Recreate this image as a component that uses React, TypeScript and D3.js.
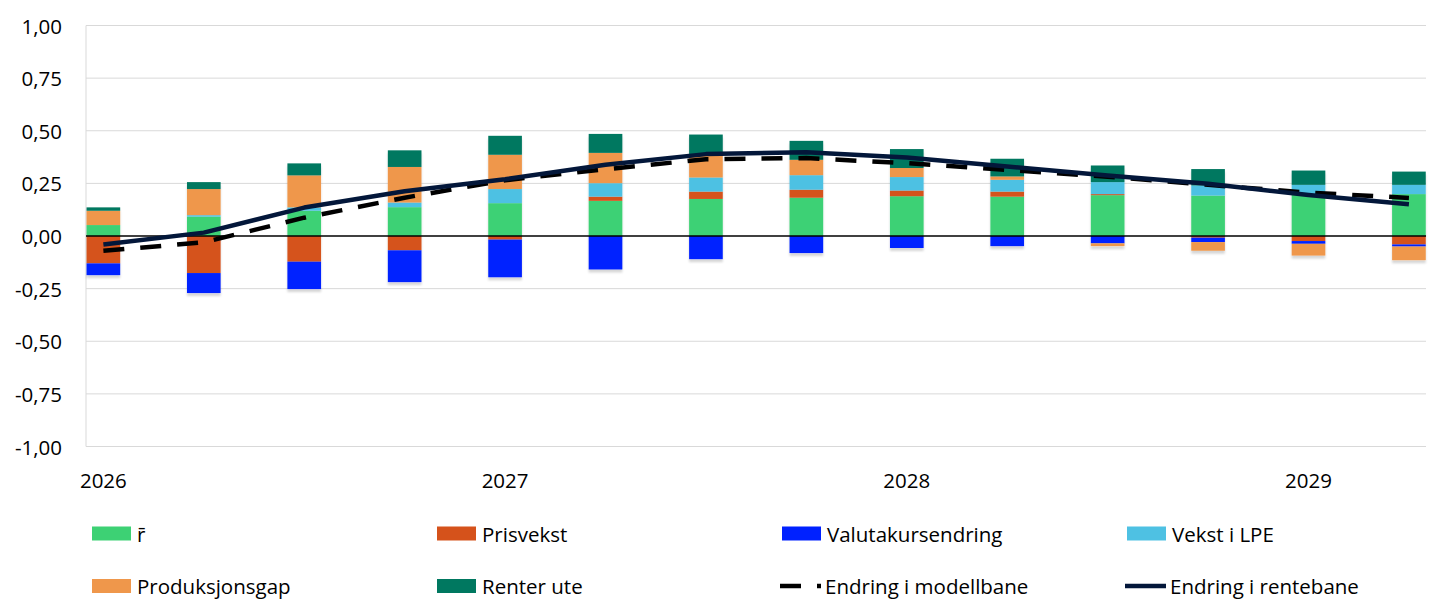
import * as d3 from 'd3';

// Quarterly decomposition of the change in the policy rate path
const QUARTERS = [
  '2026K1', '2026K2', '2026K3', '2026K4',
  '2027K1', '2027K2', '2027K3', '2027K4',
  '2028K1', '2028K2', '2028K3', '2028K4',
  '2029K1', '2029K2',
];

const R_BAR = [0.052, 0.092, 0.12, 0.137, 0.156, 0.167, 0.176, 0.182, 0.189, 0.187, 0.194, 0.192, 0.195, 0.199];
const PRISVEKST = [-0.13, -0.176, -0.122, -0.068, -0.017, 0.02, 0.035, 0.038, 0.027, 0.024, 0.005, -0.008, -0.024, -0.04];
const VALUTA = [-0.056, -0.095, -0.13, -0.151, -0.179, -0.159, -0.11, -0.081, -0.057, -0.048, -0.035, -0.021, -0.013, -0.01];
const VEKST_LPE = [0, 0.007, 0.016, 0.022, 0.067, 0.064, 0.067, 0.069, 0.064, 0.056, 0.057, 0.048, 0.048, 0.044];
const PRODGAP = [0.068, 0.124, 0.152, 0.169, 0.163, 0.144, 0.11, 0.073, 0.043, 0.016, -0.013, -0.041, -0.056, -0.065];
const RENTER_UTE = [0.016, 0.033, 0.057, 0.079, 0.09, 0.09, 0.094, 0.09, 0.09, 0.084, 0.079, 0.078, 0.068, 0.063];

const MODELLBANE = [-0.07, -0.03, 0.087, 0.182, 0.265, 0.317, 0.365, 0.37, 0.346, 0.314, 0.282, 0.243, 0.206, 0.181];
const RENTEBANE = [-0.04, 0.016, 0.135, 0.213, 0.27, 0.338, 0.389, 0.398, 0.373, 0.33, 0.287, 0.248, 0.195, 0.151];

const Y_TICKS = [-1, -0.75, -0.5, -0.25, 0, 0.25, 0.5, 0.75, 1];
const X_TICKS = [0, 4, 8, 12];
const X_TICK_LABELS = ['2026', '2027', '2028', '2029'];

const SERIES = [
  { key: 'rbar', label: 'r\u0304', color: '#3dd174', values: R_BAR },
  { key: 'pris', label: 'Prisvekst', color: '#d5521b', values: PRISVEKST },
  { key: 'valuta', label: 'Valutakursendring', color: '#0021ff', values: VALUTA },
  { key: 'lpe', label: 'Vekst i LPE', color: '#4ec1e3', values: VEKST_LPE },
  { key: 'prod', label: 'Produksjonsgap', color: '#ef974b', values: PRODGAP },
  { key: 'ute', label: 'Renter ute', color: '#007860', values: RENTER_UTE },
];

const LINES = [
  { key: 'modell', label: 'Endring i modellbane', color: '#000000', dash: '21,16', values: MODELLBANE },
  { key: 'rente', label: 'Endring i rentebane', color: '#03173a', dash: null, values: RENTEBANE },
];

const LEGEND_ORDER = ['rbar', 'pris', 'valuta', 'lpe', 'prod', 'ute', 'modell', 'rente'];

const W = 1445;
const H = 605;
const FONT = '"Open Sans", Lato, sans-serif';
const FS = 20.5;

export default function App() {
  const x = d3.scaleLinear().domain([-0.173, 13.17]).range([86, 1426]);
  const y = d3.scaleLinear().domain([-1, 1]).range([446.5, 25.5]);

  const rows = QUARTERS.map((q, i) => {
    const row: Record<string, number | string> = { q, i };
    SERIES.forEach(s => { row[s.key] = s.values[i]; });
    return row;
  });

  const stacked = d3.stack<any>()
    .keys(SERIES.map(s => s.key))
    .offset(d3.stackOffsetDiverging)(rows);

  const barW = (x(1) - x(0)) * 0.335;
  const fmt = (v: number) => d3.format('.2f')(v).replace('.', ',').replace('−', '-');

  const line = d3.line<number>()
    .x((_, i) => x(i))
    .y(d => y(d));

  const legendItems = LEGEND_ORDER.map(k => {
    const s = SERIES.find(d => d.key === k);
    if (s) return { type: 'bar', label: s.label, color: s.color, dash: null as string | null };
    const l = LINES.find(d => d.key === k)!;
    return { type: 'line', label: l.label, color: l.color, dash: l.dash };
  });
  const legendX = [92, 437, 782, 1127];
  const legendY = [533.5, 586];

  return (
    <svg width={W} height={H} style={{ position: 'absolute', left: 0, top: 0, display: 'block' }}
      fontFamily={FONT}>
      <defs>
        <filter id="shadow" x="-10%" y="-10%" width="120%" height="130%">
          <feDropShadow dx="0" dy="3" stdDeviation="0.8" floodColor="#000" floodOpacity="0.16" />
        </filter>
      </defs>
      <rect width={W} height={H} fill="#fff" />

      {/* grid */}
      {Y_TICKS.filter(t => t !== 0).map(t => (
        <line key={t} x1={86} x2={1426} y1={y(t)} y2={y(t)} stroke="#d9d9d9" strokeWidth={1} />
      ))}
      <line x1={86} x2={86} y1={y(1)} y2={y(-1)} stroke="#d9d9d9" strokeWidth={1} />

      {/* y labels */}
      {Y_TICKS.map(t => (
        <text key={t} x={62} y={y(t)} textAnchor="end" dominantBaseline="central"
          fontSize={FS} fill="#000">{fmt(t)}</text>
      ))}

      {/* x labels */}
      {X_TICKS.map((t, i) => (
        <text key={t} x={x(t)} y={480} textAnchor="middle" dominantBaseline="central"
          fontSize={FS} fill="#000">{X_TICK_LABELS[i]}</text>
      ))}

      {/* bars */}
      <g filter="url(#shadow)">
        {stacked.map((layer, si) => (
          <g key={layer.key} fill={SERIES[si].color}>
            {layer.map((d, i) => {
              const y0 = y(Math.max(d[0], d[1]));
              const y1 = y(Math.min(d[0], d[1]));
              if (y1 - y0 <= 0) return null;
              return <rect key={i} x={x(i) - barW / 2} y={y0} width={barW} height={y1 - y0} />;
            })}
          </g>
        ))}
      </g>

      {/* zero line */}
      <line x1={86} x2={1426} y1={y(0)} y2={y(0)} stroke="#000" strokeWidth={1.3} />

      {/* lines */}
      {LINES.map(l => (
        <path key={l.key} d={line(l.values) ?? ''} fill="none" stroke={l.color}
          strokeWidth={4.5} strokeDasharray={l.dash ?? undefined} strokeLinejoin="round" />
      ))}

      {/* legend */}
      {legendItems.map((it, i) => {
        const lx = legendX[i % 4];
        const ly = legendY[Math.floor(i / 4)];
        return (
          <g key={it.label}>
            {it.type === 'bar'
              ? <rect x={lx} y={ly - 7} width={39} height={14} fill={it.color} />
              : <line x1={lx - 2} x2={lx + 39} y1={ly} y2={ly} stroke={it.color} strokeWidth={4.5}
                  strokeDasharray={it.dash ?? undefined} />}
            <text x={lx + (it.type === 'bar' ? 45 : 43)} y={ly} dominantBaseline="central"
              fontSize={FS} fill="#000">{it.label}</text>
          </g>
        );
      })}
    </svg>
  );
}
